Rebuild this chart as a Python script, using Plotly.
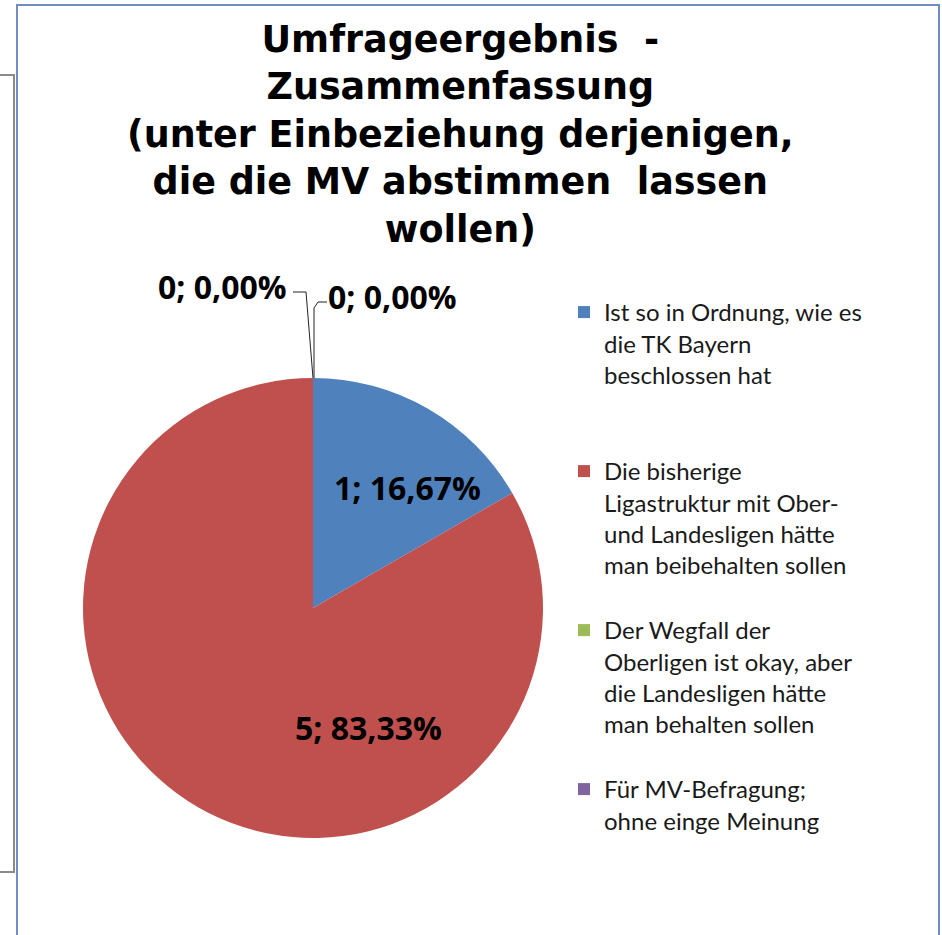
import plotly.graph_objects as go

categories = [
    "Ist so in Ordnung, wie es<br>die TK Bayern<br>beschlossen hat",
    "Die bisherige<br>Ligastruktur mit Ober-<br>und Landesligen hätte<br>man beibehalten sollen",
    "Der Wegfall der<br>Oberligen ist okay, aber<br>die Landesligen hätte<br>man behalten sollen",
    "Für MV-Befragung;<br>ohne einge Meinung",
]
values = [1, 5, 0, 0]
colors = ["#4F81BD", "#C0504D", "#9BBB59", "#8064A2"]
title_text = ("Umfrageergebnis  -<br>Zusammenfassung<br>(unter Einbeziehung derjenigen,"
              "<br>die die MV abstimmen  lassen<br>wollen)")

W, H = 942, 935


def px(x):
    return x / W


def py(y):
    return 1 - y / H


# pie placement (pixels)
cx, cy, r = 313, 608, 230

# pad legend entries to equal height (4 lines + gap); last entry unpadded
max_lines = 4
legend_names = []
for i, c in enumerate(categories):
    n = c.count("<br>") + 1
    pad = (max_lines - n + 1) if i < len(categories) - 1 else 0
    legend_names.append(c + "<br> " * pad)

total = sum(values)
label_texts = [f"{v}; {100 * v / total:.2f}%".replace(".", ",") for v in values]

fig = go.Figure()
fig.add_trace(go.Pie(
    labels=legend_names,
    values=values,
    marker=dict(colors=colors, line=dict(color="white", width=0)),
    sort=False,
    direction="clockwise",
    rotation=0,
    textinfo="none",
    domain=dict(x=[px(cx - r), px(cx + r)], y=[py(cy + r), py(cy - r)]),
    hoverinfo="skip",
    showlegend=True,
))

label_font = dict(family="Open Sans", size=32, color="black")
# data labels
fig.add_annotation(xref="paper", yref="paper", x=px(407), y=py(487), xanchor="center", yanchor="middle",
                   text=f"<b>{label_texts[0]}</b>", showarrow=False, font=label_font)
fig.add_annotation(xref="paper", yref="paper", x=px(368), y=py(727), xanchor="center", yanchor="middle",
                   text=f"<b>{label_texts[1]}</b>", showarrow=False, font=label_font)

top_x, top_y = cx, cy - r
# leader lines for zero slices
fig.add_shape(type="path", xref="paper", yref="paper",
              path=f"M {px(top_x)} {py(top_y)} L {px(306)} {py(292)} L {px(293)} {py(292)}",
              line=dict(color="#222222", width=1))
fig.add_shape(type="path", xref="paper", yref="paper",
              path=f"M {px(top_x + 1)} {py(top_y)} L {px(314)} {py(308)} L {px(318)} {py(302)} L {px(327)} {py(302)}",
              line=dict(color="#222222", width=1))
fig.add_annotation(xref="paper", yref="paper", x=px(289), y=py(287), xanchor="right", yanchor="middle",
                   text=f"<b>{label_texts[2]}</b>", showarrow=False, font=label_font)
fig.add_annotation(xref="paper", yref="paper", x=px(326), y=py(296), xanchor="left", yanchor="middle",
                   text=f"<b>{label_texts[3]}</b>", showarrow=False, font=label_font)

# title
fig.add_annotation(xref="paper", yref="paper", x=px(460), y=py(16), xanchor="center", yanchor="top",
                   text=f"<b>{title_text}</b>", showarrow=False,
                   font=dict(family="DejaVu Sans", size=36.5, color="black"))

# frames
fig.add_shape(type="rect", xref="paper", yref="paper", x0=px(17), x1=px(939), y0=py(945), y1=py(5),
              line=dict(color="#6F8FC4", width=2), layer="below")
fig.add_shape(type="path", xref="paper", yref="paper",
              path=f"M {px(-2)} {py(75)} L {px(14)} {py(75)} L {px(14)} {py(872)} L {px(-2)} {py(872)}",
              line=dict(color="#8A8A8A", width=2))

fig.update_layout(
    width=W, height=H,
    margin=dict(l=0, r=0, t=0, b=0),
    paper_bgcolor="white",
    plot_bgcolor="white",
    legend=dict(x=px(564), y=py(290), xanchor="left", yanchor="top",
                font=dict(family="Lato", size=24, color="#1a1a1a"),
                valign="top", itemwidth=30, bgcolor="rgba(0,0,0,0)",
                traceorder="normal"),
)

fig.write_html("out.html", post_script="document.body.style.margin='0';",
               config={"displayModeBar": False})
